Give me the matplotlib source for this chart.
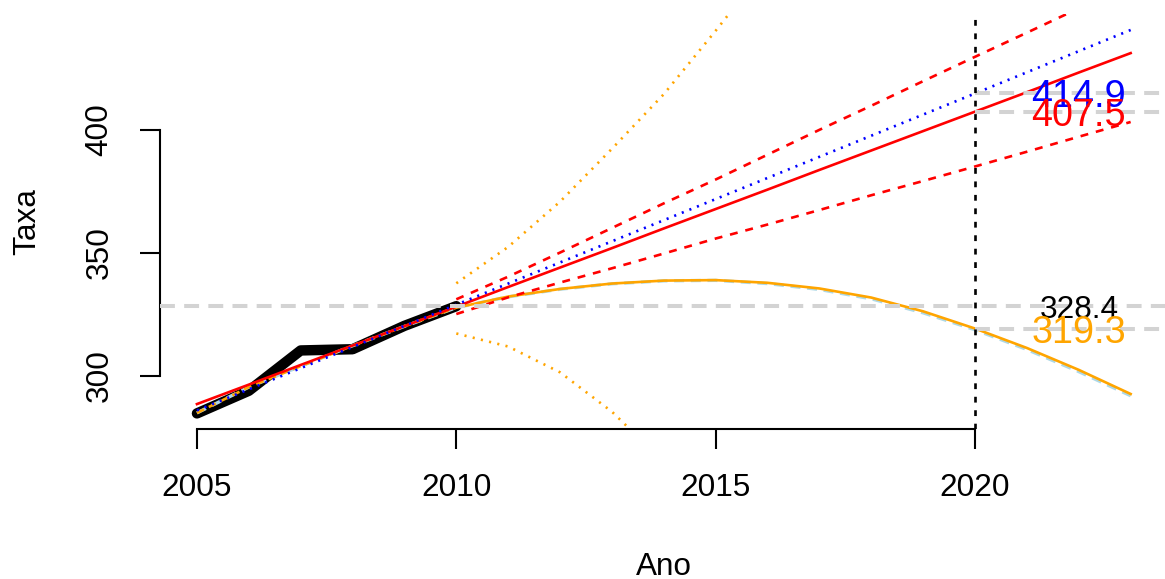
import matplotlib
matplotlib.use("Agg")
import matplotlib.pyplot as plt

plt.rcParams['font.family'] = ['Liberation Sans', 'DejaVu Sans']

# serie observada
anos_obs = [2005, 2006, 2007, 2008, 2009, 2010]
taxa_obs = [284.8, 294.0, 310.4, 310.9, 320.4, 328.4]

# ajuste linear (vermelho) e intervalo de previsao
anos_lin = [2005, 2006, 2007, 2008, 2009, 2010, 2011, 2012, 2013, 2014,
            2015, 2016, 2017, 2018, 2019, 2020, 2021, 2022, 2023]
taxa_lin = [288.6, 296.5, 304.5, 312.4, 320.3, 328.2, 336.2, 344.1, 352.0, 360.0,
            367.9, 375.8, 383.8, 391.7, 399.6, 407.5, 415.4, 423.4, 431.3]
anos_prev = [2010, 2011, 2012, 2013, 2014, 2015, 2016, 2017, 2018, 2019,
             2020, 2021, 2022, 2023]
lin_sup = [331.2, 340.4, 350.2, 360.2, 370.2, 379.9, 390.0, 400.1, 409.9, 419.9,
           429.8, 439.6, 449.5, 459.3]
lin_inf = [325.2, 332.0, 338.0, 343.8, 349.8, 355.9, 361.6, 367.5, 373.5, 379.3,
           385.2, 391.2, 397.3, 403.3]

# drift (azul)
anos_drift = [2005, 2010, 2020, 2023]
taxa_drift = [286.0, 329.0, 414.9, 440.7]

# modelo quadratico (laranja) e serie azul-clara
taxa_quad_aj = [285.0, 295.5, 304.0, 312.3, 320.2, 327.8]
taxa_quad_prev = [327.8, 332.3, 335.4, 337.6, 338.8, 339.0, 337.9, 335.6, 331.9, 326.3,
                  319.3, 311.4, 302.5, 292.7]
quad_sup = [337.7, 352.5, 370.9, 392.4, 414.6, 440.4, 467.0]
quad_inf = [317.3, 312.0, 301.5, 285.5, 265.0, 240.0, 215.0]
anos_quad_ic = [2010, 2011, 2012, 2013, 2014, 2015, 2016]
taxa_azul = [285.0, 295.5, 304.0, 312.3, 320.2, 327.8, 332.2, 335.3, 337.5, 338.7,
             338.9, 337.6, 335.2, 331.4, 325.7, 318.8, 310.8, 301.8, 292.0]

# valores em 2020
val_obs = 328.4
val_drift = 414.9
val_lin = 407.5
val_quad = 319.3

fig = plt.figure(figsize=(11.65, 5.79), dpi=100)
ax = fig.add_axes([159.6 / 1165, 1 - 429 / 579, (1168 - 159.6) / 1165, (429 - 14) / 579])

lw = 1.9
ax.plot(anos_obs, taxa_obs, color='black', lw=7.5, solid_capstyle='round',
        solid_joinstyle='round', zorder=2)
ax.plot(anos_lin, taxa_azul, color='lightblue', lw=2.4, linestyle=(0, (3, 2)), zorder=3)
ax.plot(anos_obs, taxa_quad_aj, color='orange', lw=lw, linestyle=(0, (3, 2)), zorder=4)
ax.plot(anos_prev, taxa_quad_prev, color='orange', lw=lw, zorder=4)
ax.plot(anos_quad_ic, quad_sup, color='orange', lw=lw, linestyle=(0, (0.8, 2.4)), zorder=4)
ax.plot(anos_quad_ic, quad_inf, color='orange', lw=lw, linestyle=(0, (0.8, 2.4)), zorder=4)
ax.plot(anos_lin, taxa_lin, color='red', lw=lw, zorder=5)
ax.plot(anos_prev, lin_sup, color='red', lw=lw, linestyle=(0, (3, 3)), zorder=5)
ax.plot(anos_prev, lin_inf, color='red', lw=lw, linestyle=(0, (3, 3)), zorder=5)
ax.plot(anos_drift, taxa_drift, color='blue', lw=lw, linestyle=(0, (0.8, 2.3)), zorder=5)

# linhas de referencia
cinza = '#D3D3D3'
ax.axhline(val_obs, color=cinza, lw=2.9, linestyle=(0, (3.7, 2.3)), zorder=6)
for v in [val_drift, val_lin, val_quad]:
    ax.plot([2020, 2025], [v, v], color=cinza, lw=2.9, linestyle=(0, (3.7, 2.3)), zorder=6)
ax.axvline(2020, color='black', lw=lw, linestyle=(0, (2.2, 2.9)), zorder=7)

ax.text(2022, val_drift, f'{val_drift:.1f}', color='blue', fontsize=27.2,
        ha='center', va='center_baseline', zorder=8)
ax.text(2022, val_lin, f'{val_lin:.1f}', color='red', fontsize=27.2,
        ha='center', va='center_baseline', zorder=8)
ax.text(2022, val_obs, f'{val_obs:.1f}', color='black', fontsize=22.7,
        ha='center', va='center_baseline', zorder=8)
ax.text(2022, val_quad, f'{val_quad:.1f}', color='orange', fontsize=27.2,
        ha='center', va='center_baseline', zorder=8)

ax.set_xlim(2004.28, 2023.72)
ax.set_ylim(278.46, 447.2)

for s in ['top', 'right']:
    ax.spines[s].set_visible(False)
ax.spines['bottom'].set_bounds(2005, 2020)
ax.spines['left'].set_bounds(300, 400)
ax.spines['bottom'].set_linewidth(1.5)
ax.spines['left'].set_linewidth(1.5)

ax.set_xticks([2005, 2010, 2015, 2020])
ax.set_yticks([300, 350, 400])
ax.tick_params(axis='both', length=14.4, width=1.5, labelsize=22.7)
ax.tick_params(axis='x', pad=17)
ax.tick_params(axis='y', pad=18)
for lab in ax.get_yticklabels():
    lab.set_rotation(90)
    lab.set_va('center')

fig.text(664 / 1165, 1 - 575 / 579, 'Ano', fontsize=22.7, ha='center', va='baseline')
fig.text(27 / 1165, 1 - 221.5 / 579, 'Taxa', fontsize=22.7, ha='center', va='center',
         rotation=90)

plt.savefig('out.png', dpi=100)
plt.close()
